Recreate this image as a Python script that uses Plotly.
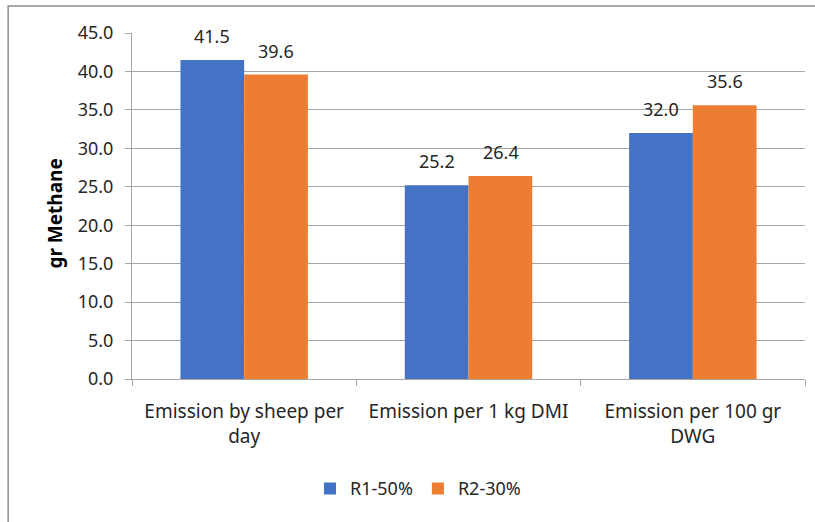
import plotly.graph_objects as go

categories = ["Emission by sheep per<br>day", "Emission per 1 kg DMI", "Emission per 100 gr<br>DWG"]
r1_values = [41.5, 25.2, 32.0]
r2_values = [39.6, 26.4, 35.6]
series_names = ["R1-50%", "R2-30%"]
y_ticks = [0, 5, 10, 15, 20, 25, 30, 35, 40, 45]

FONT = "Noto Sans"
TXT = "#262626"
fig = go.Figure()
annotations = []
for name, vals, col, shift in [(series_names[0], r1_values, "#4472C4", -32),
                               (series_names[1], r2_values, "#ED7D31", 32)]:
    fig.add_trace(go.Bar(x=categories, y=vals, name=name,
                         marker=dict(color=col, line=dict(width=0))))
    for c, v in zip(categories, vals):
        annotations.append(dict(x=c, y=v, xref="x", yref="y", text=f"{v:.1f}", showarrow=False,
                                xshift=shift, yshift=24, yanchor="middle",
                                font=dict(family=FONT, size=18, color=TXT)))

annotations.append(dict(x=-0.1144, y=0.478, xref="paper", yref="paper", text="<b>gr Methane</b>",
                        textangle=-90, showarrow=False, xanchor="center", yanchor="middle",
                        font=dict(family=FONT, size=19, color="#000000")))

fig.update_layout(
    width=815, height=522,
    margin=dict(l=132, r=10, t=33, b=143, autoexpand=False),
    paper_bgcolor="white", plot_bgcolor="white",
    barmode="group", bargap=0.432, bargroupgap=0,
    font=dict(family=FONT, size=18, color=TXT),
    legend=dict(orientation="h", x=0.425, xanchor="center", y=-0.317, yanchor="middle",
                font=dict(family=FONT, size=18, color=TXT), traceorder="normal"),
    annotations=annotations,
    shapes=[dict(type="rect", xref="paper", yref="paper", x0=-0.184, x1=1.03, y0=-0.47, y1=1.0778,
                 line=dict(color="#8c8c8c", width=1.5), fillcolor="rgba(0,0,0,0)", layer="below")],
)
fig.update_yaxes(
    range=[0, 45], tickvals=y_ticks, ticktext=[f"{v:.1f}" for v in y_ticks],
    showgrid=True, gridcolor="#a6a6a6", gridwidth=1, zeroline=False,
    showline=True, linecolor="#a6a6a6", ticks="outside", ticklen=6, tickcolor="#a6a6a6",
    tickfont=dict(family=FONT, size=18, color=TXT), automargin=False, ticklabelstandoff=8,
)
fig.update_xaxes(
    showline=True, linecolor="#a6a6a6", ticks="outside", ticklen=6, tickcolor="#a6a6a6",
    tickson="boundaries", tickfont=dict(family=FONT, size=19, color=TXT), automargin=False,
    ticklabelstandoff=15,
)
fig.write_html("out.html", config={"displayModeBar": False},
               post_script="document.body.style.margin='0';")
